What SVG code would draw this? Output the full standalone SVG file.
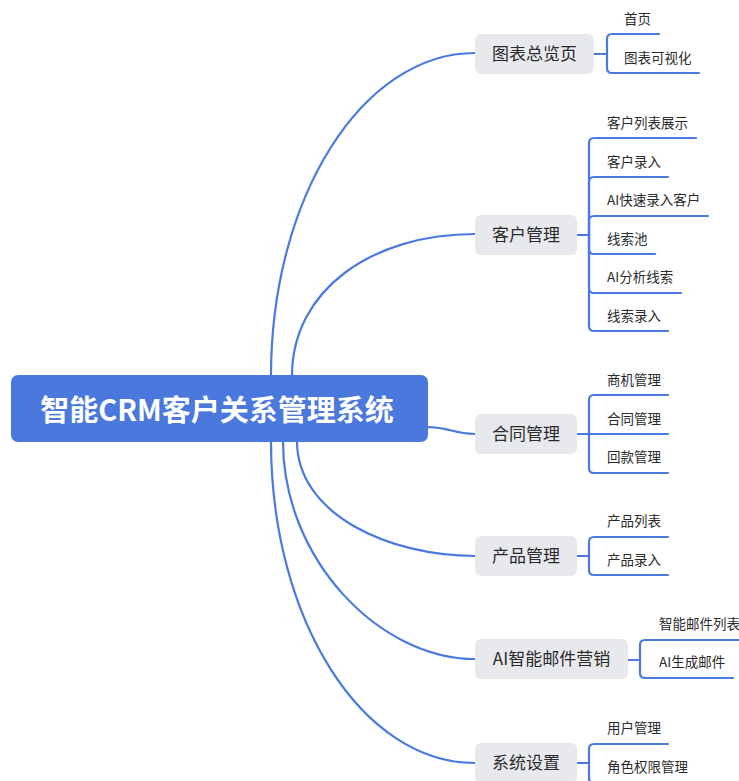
<svg xmlns="http://www.w3.org/2000/svg" width="739" height="781" viewBox="0 0 739 781">
<style>
.bg{fill:#ffffff}
.root rect{fill:#4a78dc}
.root text{fill:#ffffff;font-family:"Noto Sans CJK SC","Liberation Sans",sans-serif;font-weight:bold;font-size:29px;text-anchor:middle;dominant-baseline:central}
.node rect{fill:#e8e9ed}
.node text{fill:#2b2b2b;font-family:"Noto Sans CJK SC","Liberation Sans",sans-serif;font-size:17px;text-anchor:middle;dominant-baseline:central}
.leaf{fill:#2b2b2b;font-family:"Noto Sans CJK SC","Liberation Sans",sans-serif;font-size:13.5px;dominant-baseline:central}
.conn path{fill:none;stroke:#4a7ae0;stroke-width:2.2;stroke-linecap:round}
</style>
<rect class="bg" x="0" y="0" width="739" height="781"/>

<g id="connectors" class="conn">
<path d="M271,376 C271,198 362,53 475,53"/>
<path d="M292,376 C292,290 372,234 475,234"/>
<path d="M427,427 C451,427 452,434 475,434"/>
<path d="M297,441 C297,515 390,556 475,556"/>
<path d="M283,441 C283,560 380,659 475,659"/>
<path d="M271,441 C271,620 362,763 475,763"/>

<path d="M594,54 H607"/>
<path d="M607,54 V39 Q607,34 612,34 H659"/>
<path d="M607,54 V68 Q607,73 612,73 H699"/>

<path d="M577,235 H589"/>
<path d="M589,235 V143 Q589,138 594,138 H696"/>
<path d="M589,235 V182 Q589,177 594,177 H668"/>
<path d="M589,235 V221 Q589,216 594,216 H708"/>
<path d="M589,235 V249 Q589,254 594,254 H655"/>
<path d="M589,235 V288 Q589,293 594,293 H681"/>
<path d="M589,235 V326 Q589,331 594,331 H668"/>

<path d="M577,434 H589"/>
<path d="M589,434 V400 Q589,395 594,395 H668"/>
<path d="M589,434 H668"/>
<path d="M589,434 V468 Q589,473 594,473 H668"/>

<path d="M577,556 H589"/>
<path d="M589,556 V542 Q589,537 594,537 H668"/>
<path d="M589,556 V570 Q589,575 594,575 H668"/>

<path d="M628,660 H640"/>
<path d="M640,660 V645 Q640,640 645,640 H745"/>
<path d="M640,660 V673 Q640,678 645,678 H733"/>

<path d="M577,763 H589"/>
<path d="M589,763 V749 Q589,744 594,744 H668"/>
<path d="M589,763 V778 Q589,783 594,783 H708"/>
</g>

<g id="root" class="root">
<rect x="11" y="375" width="417" height="67" rx="7"/>
<text x="217" y="408">智能CRM客户关系管理系统</text>
</g>

<g id="node-overview" class="node">
<rect x="475" y="34" width="119" height="40" rx="6"/>
<text x="534.5" y="52.5">图表总览页</text>
</g>
<g id="node-customer" class="node">
<rect x="475" y="215" width="102" height="40" rx="6"/>
<text x="526" y="233.5">客户管理</text>
</g>
<g id="node-contract" class="node">
<rect x="475" y="414" width="102" height="40" rx="6"/>
<text x="526" y="432.5">合同管理</text>
</g>
<g id="node-product" class="node">
<rect x="475" y="536" width="102" height="40" rx="6"/>
<text x="526" y="554.5">产品管理</text>
</g>
<g id="node-mail" class="node">
<rect x="475" y="639" width="153" height="40" rx="6"/>
<text x="551.5" y="657.5">AI智能邮件营销</text>
</g>
<g id="node-settings" class="node">
<rect x="475" y="743" width="102" height="40" rx="6"/>
<text x="526" y="761.5">系统设置</text>
</g>

<g id="leaf-overview">
<text class="leaf" x="624" y="17.5">首页</text>
<text class="leaf" x="624" y="56.5">图表可视化</text>
</g>
<g id="leaf-customer">
<text class="leaf" x="607" y="121.5">客户列表展示</text>
<text class="leaf" x="607" y="160.5">客户录入</text>
<text class="leaf" x="607" y="198.5">AI快速录入客户</text>
<text class="leaf" x="607" y="237.5">线索池</text>
<text class="leaf" x="607" y="275.5">AI分析线索</text>
<text class="leaf" x="607" y="314.5">线索录入</text>
</g>
<g id="leaf-contract">
<text class="leaf" x="607" y="378.5">商机管理</text>
<text class="leaf" x="607" y="417.5">合同管理</text>
<text class="leaf" x="607" y="455.5">回款管理</text>
</g>
<g id="leaf-product">
<text class="leaf" x="607" y="519.5">产品列表</text>
<text class="leaf" x="607" y="558.5">产品录入</text>
</g>
<g id="leaf-mail">
<text class="leaf" x="659" y="622.5">智能邮件列表</text>
<text class="leaf" x="659" y="660.5">AI生成邮件</text>
</g>
<g id="leaf-settings">
<text class="leaf" x="607" y="726.5">用户管理</text>
<text class="leaf" x="607" y="765.5">角色权限管理</text>
</g>
</svg>
